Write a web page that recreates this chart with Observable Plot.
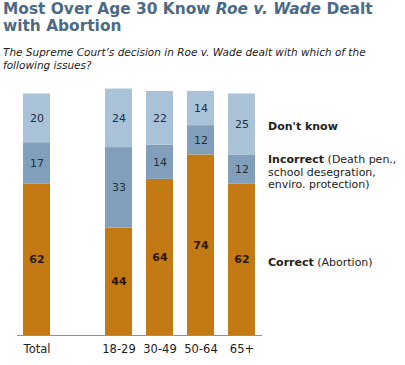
<!DOCTYPE html>
<html>
<head>
<meta charset="utf-8">
<script src="https://cdn.jsdelivr.net/npm/d3@7"></script>
<script src="https://cdn.jsdelivr.net/npm/@observablehq/plot@0.6"></script>
<style>
  html, body { margin: 0; padding: 0; background: #fff; }
  #wrap { position: relative; width: 405px; height: 365px; overflow: hidden; font-family: "DejaVu Sans", Verdana, sans-serif; }
  #title { position: absolute; left: 3px; top: 1px; font-size: 15.4px; line-height: 17px; font-weight: bold; color: #4d6a85; white-space: nowrap; }
  #subtitle { position: absolute; left: 3px; top: 46px; font-size: 10.5px; line-height: 13px; font-style: italic; color: #222; white-space: nowrap; }
  #chart { position: absolute; left: 0; top: 80px; }
</style>
</head>
<body>
<div id="wrap">
  <div id="title">Most Over Age 30 Know <i>Roe v. Wade</i> Dealt<br>with Abortion</div>
  <div id="subtitle">The Supreme Court’s decision in Roe v. Wade dealt with which of the<br>following issues?</div>
  <div id="chart"></div>
</div>
<script>
const groups = ["Total", " ", "18-29", "30-49", "50-64", "65+"];
const barGroups = ["Total", "18-29", "30-49", "50-64", "65+"];
const responses = ["Correct", "Incorrect", "Don't know"];
const correct = [62, 44, 64, 74, 62];
const incorrect = [17, 33, 14, 12, 12];
const dontKnow = [20, 24, 22, 14, 25];
const legendLabels = ["Correct (Abortion)", "Incorrect (Death pen.,\nschool desegration,\nenviro. protection)", "Don't know"];
const colors = ["#c47a14", "#819fba", "#a9c2d7"];

const series = [correct, incorrect, dontKnow];
const rows = [];
barGroups.forEach((g, i) => {
  responses.forEach((r, j) => rows.push({group: g, response: r, value: series[j][i]}));
});
const legendRows = rows.filter(d => d.group === "65+");

const stackOpts = {x: "group", y: "value", z: "response", order: responses};

const chart = Plot.plot({
  width: 405,
  height: 285,
  marginLeft: 17,
  marginRight: 143,
  marginTop: 11,
  marginBottom: 30,
  style: {fontFamily: "DejaVu Sans, Verdana, sans-serif", fontSize: "11px", background: "transparent", overflow: "visible"},
  x: {domain: groups, paddingInner: 0.341, paddingOuter: 0.158, label: null},
  y: {domain: [0, 100], axis: null},
  color: {domain: responses, range: colors},
  marks: [
    Plot.barY(rows, {...stackOpts, fill: "response"}),
    Plot.ruleY([0], {stroke: "#8a93a0", strokeWidth: 1.2}),
    Plot.axisX({tickSize: 0, tickPadding: 9, fontSize: 11.5, fill: "#222", tickFormat: d => d.trim()}),
    Plot.text(rows, Plot.stackY({...stackOpts, text: d => d.response !== "Correct" ? String(d.value) : "", fill: "#1f2f42", fontSize: 11})),
    Plot.text(rows, Plot.stackY({...stackOpts, text: d => d.response === "Correct" ? String(d.value) : "", fill: "#2a1805", fontWeight: "bold", fontSize: 11})),
    Plot.text(legendRows, Plot.stackY({...stackOpts, text: d => legendLabels[responses.indexOf(d.response)], textAnchor: "start", dx: 26, dy: 2, fill: "#222", fontSize: 11, lineHeight: 1.13}))
  ]
});
document.getElementById("chart").appendChild(chart);

// make leading word of legend labels bold
chart.querySelectorAll("text").forEach(t => {
  const targets = t.querySelectorAll("tspan").length ? t.querySelectorAll("tspan") : [t];
  targets.forEach(el => {
    const s = el.textContent;
    for (const r of responses) {
      if (s.startsWith(r) && (s.length > r.length || r === "Don't know")) {
        el.textContent = "";
        const b = document.createElementNS("http://www.w3.org/2000/svg", "tspan");
        b.setAttribute("font-weight", "bold");
        b.textContent = r;
        el.appendChild(b);
        if (s.length > r.length) el.appendChild(document.createTextNode(s.slice(r.length)));
        break;
      }
    }
  });
});
</script>
</body>
</html>
